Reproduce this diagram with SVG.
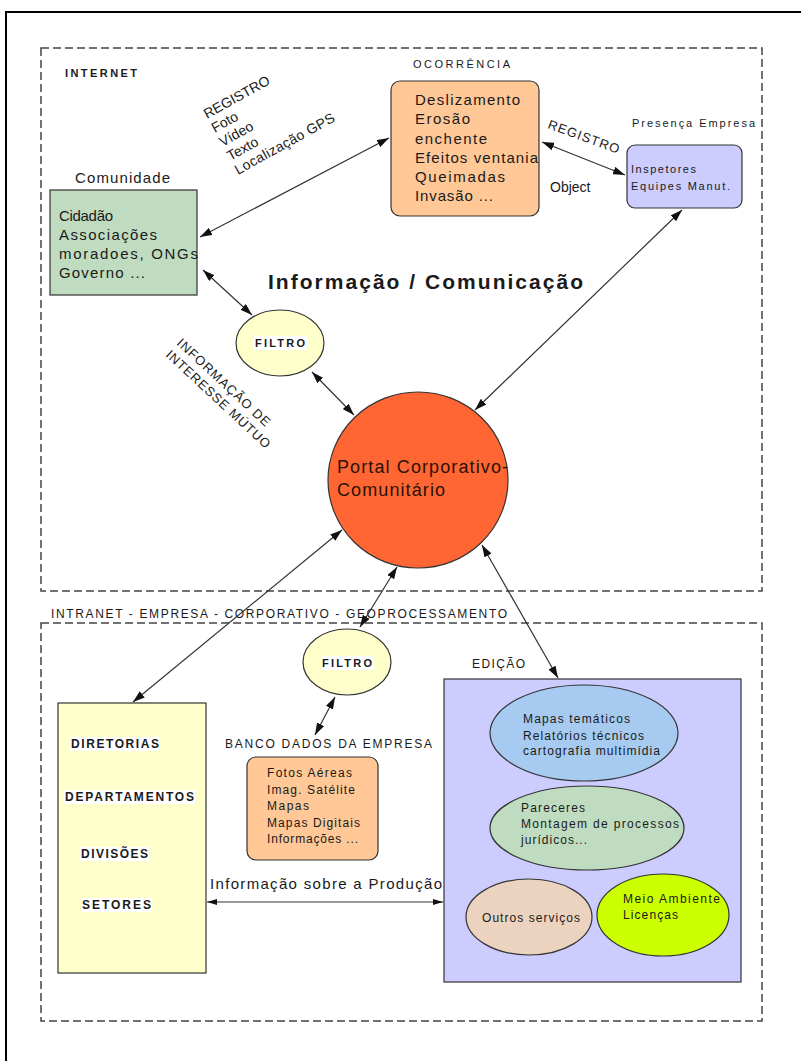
<svg xmlns="http://www.w3.org/2000/svg" width="801" height="1061" viewBox="0 0 801 1061">
<defs>
<marker id="ah" viewBox="0 0 12 8" refX="12" refY="4" markerWidth="12" markerHeight="8" markerUnits="userSpaceOnUse" orient="auto-start-reverse"><path d="M0,0 L12,4 L0,8 z" fill="#111"/></marker>
<marker id="ahs" viewBox="0 0 10 6" refX="10" refY="3" markerWidth="10" markerHeight="6" markerUnits="userSpaceOnUse" orient="auto-start-reverse"><path d="M0,0 L10,3 L0,6 z" fill="#111"/></marker>
<style>
text{font-family:"Liberation Sans",Arial,sans-serif;fill:#1a1a1a}
.s11{font-size:11px}
.s12{font-size:12px}
.s15{font-size:15px}
.b{font-weight:bold}
.dash{fill:none;stroke:#444;stroke-width:1.5;stroke-dasharray:8,4}
.con{fill:none;stroke:#333;stroke-width:1.2;marker-start:url(#ah);marker-end:url(#ah)}
.node{stroke:#333;stroke-width:1.2}
</style>
</defs>
<rect width="801" height="1061" fill="#fff"/>
<path d="M6,1061 V12 H801" fill="none" stroke="#000" stroke-width="2"/>

<g id="zone-internet">
<rect class="dash" x="41" y="48" width="721" height="543"/>
<text class="s11 b" x="65" y="77" textLength="72">INTERNET</text>
</g>
<g id="zone-intranet">
<rect class="dash" x="41" y="623" width="721" height="398"/>
<text class="s12" x="51" y="618" textLength="456">INTRANET - EMPRESA - CORPORATIVO - GEOPROCESSAMENTO</text>
</g>

<g id="title">
<text class="b" x="268" y="289" font-size="21" textLength="315">Informação / Comunicação</text>
</g>

<g id="connectors">
<line class="con" x1="200" y1="237" x2="389" y2="138"/>
<line class="con" x1="203" y1="270" x2="252" y2="315"/>
<line class="con" x1="312" y1="372" x2="354" y2="415"/>
<line class="con" x1="542" y1="142" x2="625" y2="175"/>
<line class="con" x1="682" y1="210" x2="475" y2="410"/>
<line class="con" x1="342" y1="530" x2="133" y2="702"/>
<line class="con" x1="397" y1="567" x2="360" y2="627"/>
<line class="con" x1="482" y1="545" x2="558" y2="678"/>
<line class="con" x1="335" y1="697" x2="315" y2="735"/>
<line x1="207" y1="902" x2="443" y2="902" stroke="#333" stroke-width="1.2" marker-start="url(#ahs)" marker-end="url(#ahs)"/>
<text font-size="14" transform="translate(207,119) rotate(-29)"><tspan x="0" y="0">REGISTRO</tspan><tspan x="0" y="16">Foto</tspan><tspan x="0" y="32">Vídeo</tspan><tspan x="0" y="48">Texto</tspan><tspan x="0" y="64" textLength="112">Localização GPS</tspan></text>
<text font-size="13" transform="translate(547,128) rotate(20)" textLength="75">REGISTRO</text>
<text x="550" y="192" font-size="14">Object</text>
<text font-size="13" transform="translate(176,344) rotate(43)"><tspan x="0" y="0" textLength="122">INFORMAÇÃO DE</tspan><tspan x="0" y="16" textLength="137">INTERESSE MÚTUO</tspan></text>
<text class="s15" x="210" y="889" textLength="232">Informação sobre a Produção</text>
</g>

<g id="comunidade">
<text class="s15" x="75" y="183" textLength="95">Comunidade</text>
<rect class="node" x="50" y="190" width="147" height="105" fill="#C0DCC0"/>
<text class="s15"><tspan x="59" y="221" textLength="54">Cidadão</tspan><tspan x="59" y="240" textLength="98">Associações</tspan><tspan x="59" y="259" textLength="139">moradoes, ONGs</tspan><tspan x="59" y="278" textLength="86">Governo ...</tspan></text>
</g>

<g id="ocorrencia">
<text class="s11" x="413" y="68" textLength="97">OCORRÊNCIA</text>
<rect class="node" x="391" y="81" width="148" height="135" rx="9" fill="#FFC896"/>
<text class="s15"><tspan x="415" y="105" textLength="105">Deslizamento</tspan><tspan x="415" y="124" textLength="55">Erosão</tspan><tspan x="415" y="144" textLength="72">enchente</tspan><tspan x="415" y="163" textLength="123">Efeitos ventania</tspan><tspan x="415" y="182" textLength="90">Queimadas</tspan><tspan x="415" y="201" textLength="78">Invasão ...</tspan></text>
</g>

<g id="presenca">
<text class="s11" x="632" y="127" textLength="123">Presença Empresa</text>
<rect class="node" x="627" y="145" width="115" height="63" rx="8" fill="#CCCCFF"/>
<text class="s11"><tspan x="631" y="173" textLength="65">Inspetores</tspan><tspan x="631" y="190" textLength="99">Equipes Manut.</tspan></text>
</g>

<g id="filtro1">
<ellipse class="node" cx="280" cy="343" rx="44" ry="33" fill="#FFFFCC"/>
<rect x="254" y="336" width="53" height="14" fill="#fff"/>
<text class="s11 b" x="255" y="347" textLength="50">FILTRO</text>
</g>

<g id="portal">
<ellipse class="node" cx="418" cy="480" rx="90" ry="88" fill="#FF6633"/>
<text font-size="18" style="fill:#2a1205"><tspan x="337" y="473" textLength="171">Portal Corporativo-</tspan><tspan x="337" y="496" textLength="108">Comunitário</tspan></text>
</g>

<g id="filtro2">
<ellipse class="node" cx="347" cy="662" rx="44" ry="33" fill="#FFFFCC"/>
<rect x="321" y="656" width="53" height="14" fill="#fff"/>
<text class="s11 b" x="322" y="667" textLength="50">FILTRO</text>
</g>

<g id="banco">
<text class="s12" x="225" y="748" textLength="207">BANCO DADOS DA EMPRESA</text>
<rect class="node" x="247" y="757" width="131" height="103" rx="9" fill="#FFC896"/>
<text class="s12"><tspan x="267" y="777" textLength="85">Fotos Aéreas</tspan><tspan x="267" y="794" textLength="88">Imag. Satélite</tspan><tspan x="267" y="810" textLength="42">Mapas</tspan><tspan x="267" y="827" textLength="93">Mapas Digitais</tspan><tspan x="267" y="843" textLength="91">Informações ...</tspan></text>
</g>

<g id="diretorias">
<rect class="node" x="58" y="703" width="148" height="270" fill="#FFFFCC"/>
<rect x="70" y="737" width="90" height="14" fill="#fff"/>
<rect x="64" y="790" width="131" height="14" fill="#fff"/>
<rect x="80" y="847" width="69" height="14" fill="#fff"/>
<rect x="81" y="898" width="71" height="14" fill="#fff"/>
<text class="s12 b"><tspan x="71" y="748" textLength="88">DIRETORIAS</tspan><tspan x="65" y="801" textLength="129">DEPARTAMENTOS</tspan><tspan x="81" y="858" textLength="67">DIVISÕES</tspan><tspan x="82" y="909" textLength="69">SETORES</tspan></text>
</g>

<g id="edicao">
<text class="s12" x="472" y="668" textLength="53">EDIÇÃO</text>
<rect class="node" x="444" y="679" width="297" height="303" fill="#CCCCFF"/>
<ellipse class="node" cx="584" cy="733" rx="94" ry="48" fill="#A6CAF0"/>
<text class="s12"><tspan x="523" y="723" textLength="107">Mapas temáticos</tspan><tspan x="523" y="740" textLength="121">Relatórios técnicos</tspan><tspan x="523" y="755" textLength="137">cartografia multimídia</tspan></text>
<ellipse class="node" cx="587" cy="828" rx="97" ry="42" fill="#C0DCC0"/>
<text class="s12"><tspan x="521" y="812" textLength="64">Pareceres</tspan><tspan x="521" y="828" textLength="158">Montagem de processos</tspan><tspan x="521" y="844" textLength="66">jurídicos...</tspan></text>
<ellipse class="node" cx="529" cy="917" rx="63" ry="38" fill="#EBD3BF"/>
<text class="s12" x="482" y="922" textLength="98">Outros serviços</text>
<ellipse class="node" cx="663" cy="915" rx="66" ry="41" fill="#CCFF00"/>
<text class="s12"><tspan x="623" y="903" textLength="97">Meio Ambiente</tspan><tspan x="623" y="919" textLength="55">Licenças</tspan></text>
</g>
</svg>
